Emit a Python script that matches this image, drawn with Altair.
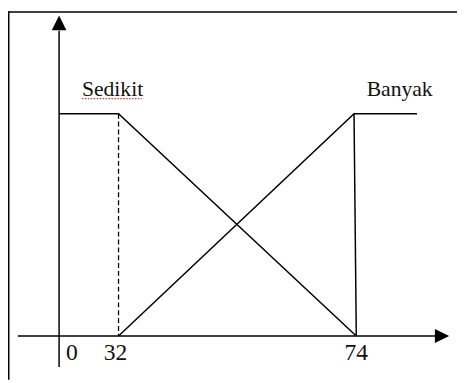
import altair as alt
import pandas as pd

# --- fuzzy membership functions (x in data units, y = membership degree) ---
sedikit_x = [0, 32, 74]
sedikit_y = [1, 1, 0]
banyak_x = [32, 73.6, 91]
banyak_y = [0, 1, 1]
drop_x = [73.6, 74]
drop_y = [1, 0]
guide_x = [32, 32]          # dashed guide at 32
guide_y = [1, 0]

# axis ticks and labels
tick_values = [0, 32, 74]
tick_labels = ["0", "32", "74"]
tick_dx = [13, -3, 0]

# set names and their anchor points
set_names = ["Sedikit", "Banyak"]
name_x = [12.3, 76.9]
name_y = [1.08, 1.08]

# axis extents (data units)
x_axis_range = [-20, 97]
y_axis_range = [-0.14, 1.374]
x_arrow = [98, 0]
y_arrow = [0, 1.409]
underline_x = [12.3, 36.1]
underline_y = 1.068

W, H = 457, 375
xs = alt.Scale(domain=[-20, 0, 32, 74, 100], range=[10, 52, 112.5, 354.5, 449], nice=False, zero=False)
ys = alt.Scale(domain=[0, 1], range=[330.5, 104.3], nice=False, zero=False)

def X(f="x"):
    return alt.X(f + ":Q", scale=xs, axis=None)

def Y(f="y"):
    return alt.Y(f + ":Q", scale=ys, axis=None)

def poly(xv, yv, dash=None, color="black", width=1.5):
    df = pd.DataFrame({"x": xv, "y": yv, "i": list(range(len(xv)))})
    kw = dict(color=color, strokeWidth=width)
    if dash:
        kw["strokeDash"] = dash
    return alt.Chart(df).mark_line(**kw).encode(x=X(), y=Y(), order="i:Q")

layers = []
# axes
layers.append(poly(x_axis_range, [0, 0], width=1.5))
layers.append(poly([0, 0], y_axis_range, width=1.5))
layers.append(
    alt.Chart(pd.DataFrame({"x": [x_arrow[0]], "y": [x_arrow[1]]}))
    .mark_point(shape="M-1,-1L1,0L-1,1Z", size=210, filled=True, color="black", opacity=1)
    .encode(x=X(), y=Y())
)
layers.append(
    alt.Chart(pd.DataFrame({"x": [y_arrow[0]], "y": [y_arrow[1]]}))
    .mark_point(shape="M0,-1L1,1L-1,1Z", size=220, filled=True, color="black", opacity=1)
    .encode(x=X(), y=Y())
)
# membership functions
layers.append(poly(sedikit_x, sedikit_y))
layers.append(poly(banyak_x, banyak_y))
layers.append(poly(drop_x, drop_y))
layers.append(poly(guide_x, guide_y, dash=[5, 3], width=1.3))

# set names
layers.append(
    alt.Chart(pd.DataFrame({"x": name_x, "y": name_y, "t": set_names}))
    .mark_text(align="left", baseline="alphabetic", font="Liberation Serif", fontSize=22, color="#111")
    .encode(x=X(), y=Y(), text="t:N")
)
# spell-check style underline under "Sedikit"
layers.append(poly(underline_x, [underline_y, underline_y], dash=[1.5, 1.5], color="#e03030", width=1.2))

# tick labels
for v, lab, dx in zip(tick_values, tick_labels, tick_dx):
    layers.append(
        alt.Chart(pd.DataFrame({"x": [v], "y": [-0.11], "t": [lab]}))
        .mark_text(align="center", baseline="alphabetic", dx=dx, font="Liberation Serif", fontSize=24, color="#111")
        .encode(x=X(), y=Y(), text="t:N")
    )

# frame (top and left edges)
frame_df = pd.DataFrame({"a": [0]})
layers.append(alt.Chart(frame_df).mark_rule(color="black", strokeWidth=1.5).encode(
    x=alt.value(0), x2=alt.value(W), y=alt.value(0.75)))
layers.append(alt.Chart(frame_df).mark_rule(color="black", strokeWidth=1.5).encode(
    x=alt.value(0.75), y=alt.value(0), y2=alt.value(H)))

chart = (
    alt.layer(*layers)
    .properties(width=W, height=H, padding=0, autosize=alt.AutoSizeParams(type="none"), background="white")
    .configure_view(stroke=None)
)

chart.save("out.html", embed_options={"renderer": "svg", "actions": False})
